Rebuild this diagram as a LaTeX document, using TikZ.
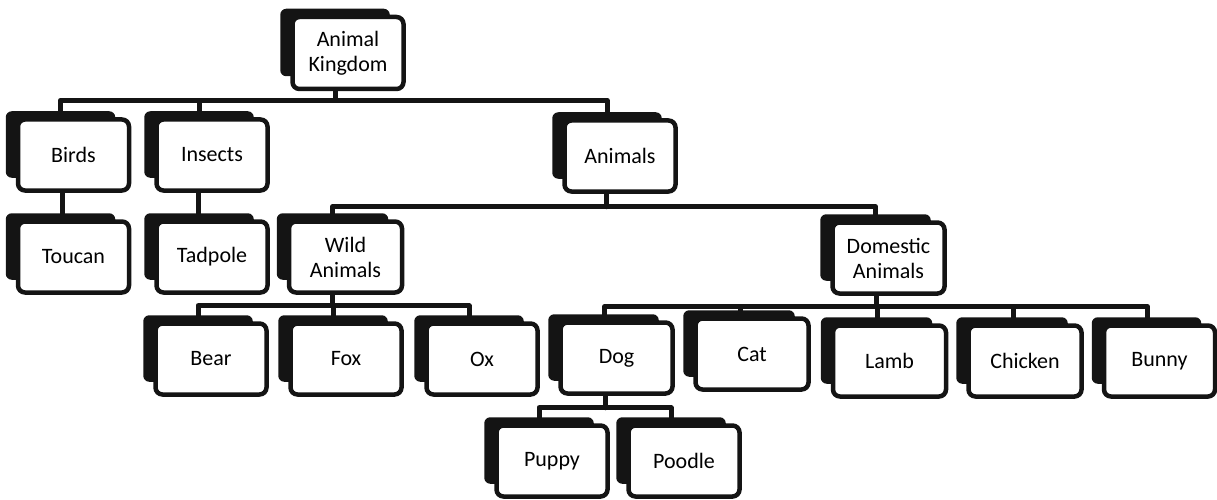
\documentclass[tikz,border=0pt]{standalone}
\usepackage{fontspec}
\setmainfont{Carlito}
\usetikzlibrary{calc,backgrounds}
\begin{document}
\begin{tikzpicture}[x=1pt,y=-1pt,
  card/.style={draw=black!92, line width=4.5pt, fill=white, rounded corners=7pt,
    minimum width=111pt, minimum height=71pt, align=center, inner sep=0pt,
    font=\fontsize{22}{25}\selectfont, text=black},
  shadowfill/.style={fill=black!92, rounded corners=6pt},
  conn/.style={draw=black!92, line width=5pt, line cap=round, line join=round}]
\useasboundingbox (0,0) rectangle (1217,500);
% nodes
\node[card, minimum height=72pt] (ak) at (348,53) {Animal\\Kingdom};
\node[card] (birds) at (73.5,155) {Birds};
\node[card] (insects) at (212,155) {Insects};
\node[card] (animals) at (620,156) {Animals};
\node[card] (toucan) at (73.5,257) {Toucan};
\node[card] (tadpole) at (212,257) {Tadpole};
\node[card, minimum width=113pt] (wild) at (345.5,257) {Wild\\Animals};
\node[card, minimum width=112pt] (domestic) at (888.5,258) {Domestic\\Animals};
\node[card] (bear) at (211,359) {Bear};
\node[card] (fox) at (346,359) {Fox};
\node[card] (ox) at (482,359) {Ox};
\node[card, minimum width=112pt] (dog) at (616.5,358) {Dog};
\node[card, minimum width=113pt] (cat) at (752,354) {Cat};
\node[card, minimum width=113pt] (lamb) at (889.5,361) {Lamb};
\node[card, minimum width=113pt] (chicken) at (1025,361) {Chicken};
\node[card, minimum width=111pt] (bunny) at (1159.5,361) {Bunny};
\node[card] (puppy) at (552,461) {Puppy};
\node[card] (poodle) at (684,461) {Poodle};
\begin{pgfonlayer}{background}
% connectors
\coordinate (b1) at ($(ak.south)+(-13,9)$);
\draw[conn] ($(ak.south)+(-13,0)$) -- (b1);
\foreach \c in {birds,insects,animals}
  \draw[conn] (b1) -| ($(\c.north)+(-13,0)$);
\draw[conn] ($(birds.south)+(-11,0)$) -- ($(toucan.north)+(-11,0)$);
\draw[conn] ($(insects.south)+(-14,0)$) -- ($(tadpole.north)+(-14,0)$);
\coordinate (b2) at ($(animals.south)+(-14,13)$);
\draw[conn] ($(animals.south)+(-14,0)$) -- (b2);
\foreach \c in {wild,domestic}
  \draw[conn] (b2) -| ($(\c.north)+(-13,0)$);
\coordinate (b3) at ($(wild.south)+(-13,11)$);
\draw[conn] ($(wild.south)+(-13,0)$) -- (b3);
\foreach \c in {bear,fox,ox}
  \draw[conn] (b3) -| ($(\c.north)+(-13,0)$);
\coordinate (b4) at ($(domestic.south)+(-12,11)$);
\draw[conn] ($(domestic.south)+(-12,0)$) -- (b4);
\foreach \c in {dog,cat,lamb,chicken,bunny}
  \draw[conn] (b4) -| ($(\c.north)+(-12,0)$);
\coordinate (b5) at ($(dog.south)+(-11,12)$);
\draw[conn] ($(dog.south)+(-11,0)$) -- (b5);
\foreach \c in {puppy,poodle}
  \draw[conn] (b5) -| ($(\c.north)+(-13,0)$);
% shadows
\foreach \n in {ak,birds,insects,animals,toucan,tadpole,wild,domestic,bear,fox,ox,dog,cat,lamb,chicken,bunny,puppy,poodle}
  \fill[shadowfill] ($(\n.north west)+(-10,-6)$) rectangle ($(\n.south east)+(-16,-15)$);
\end{pgfonlayer}
\end{tikzpicture}
\end{document}
